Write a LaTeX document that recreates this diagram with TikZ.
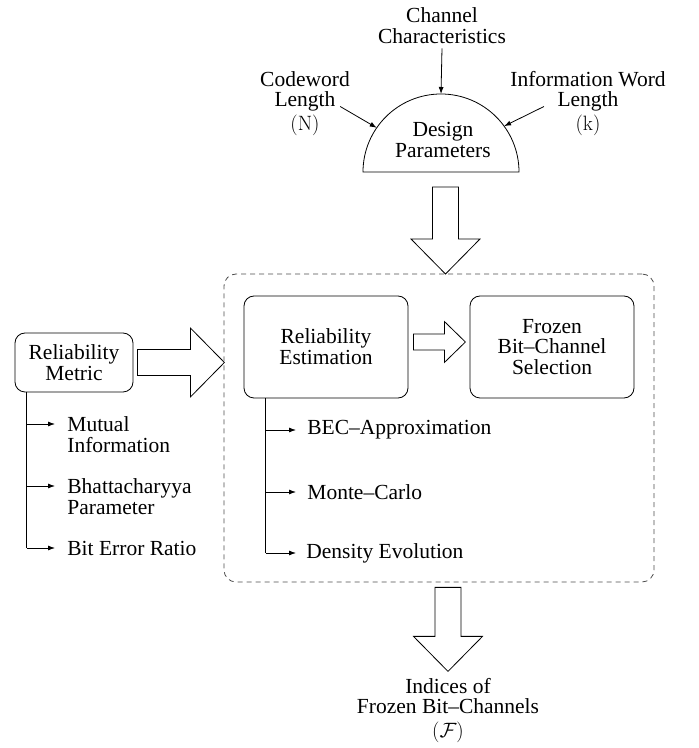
\documentclass[tikz,border=0pt]{standalone}
\usepackage[no-math]{fontspec}
\setmainfont{Liberation Serif}
\usetikzlibrary{arrows.meta,calc}

% hollow block arrow: start, angle, length, shaft half width, head half width, head length
\newcommand{\fatarrow}[6]{%
  \draw[fat, shift={(#1)}, rotate=#2] (0,-#4) -- ({#3-#6},-#4) -- ({#3-#6},-#5)
    -- (#3,0) -- ({#3-#6},#5) -- ({#3-#6},#4) -- (0,#4) -- cycle;}

\begin{document}
\begin{tikzpicture}[x=1pt,y=1pt,line width=0.8pt,
    font=\fontsize{21.5}{20.8}\selectfont,
    box/.style={draw, rounded corners=10pt, align=center, inner sep=0pt},
    lbl/.style={align=center, inner sep=0pt},
    item/.style={align=left, inner sep=0pt, anchor=west},
    conn/.style={-{Latex[length=7pt,width=5pt]}},
    fat/.style={draw, fill=white, line width=0.8pt}]
    \useasboundingbox (0,0) rectangle (699,748);
    % Design Parameters
    \coordinate (dp) at (441,576);
    \draw (dp) ++(-78,0) arc[start angle=180, end angle=0, radius=78] -- cycle;
    \node[lbl] (design) at (443,608) {Design\\Parameters};
    \node[lbl] (chan) at (442,722) {Channel\\Characteristics};
    \node[lbl] (code) at (305,644.5) {Codeword\\Length\\[3pt]$(\mathrm{N})$};
    \node[lbl] (info) at (588,644.5) {Information Word\\Length\\[3pt]$(\mathrm{k})$};
    \draw[conn] ([yshift=-4pt]chan.south) -- ($(dp)+(0,78)$);
    \draw[conn] ($(code.east)+(-10,-3)$) -- ($(dp)+(145.5:78)$);
    \draw[conn] ($(info.west)+(34,-3)$) -- ($(dp)+(36:78)$);
    %
    % Reliability Estimation and Selection
    \node[draw, black!70, dash pattern=on 5pt off 4pt, rounded corners=12pt,
          minimum width=430pt, minimum height=308pt] (outer) at (439,320) {};
    \node[box, minimum width=164pt, minimum height=102pt] (est) at (326,401) {Reliability\\Estimation};
    \node[box, minimum width=164pt, minimum height=102pt] (frozen) at (552,401) {Frozen\\Bit--Channel\\Selection};
    \node[item] (bec) at (307,318) {BEC--Approximation};
    \node[item] (mc) at (307,256) {Monte--Carlo};
    \node[item] (de) at (306,195) {Density Evolution};
    \coordinate (et) at ([xshift=22pt]est.south west);
    \draw (et) -- (et |- de.west);
    \draw[conn] (et |- bec.west) -- ([xshift=-11pt]bec.west);
    \draw[conn] (et |- mc.west) -- ([xshift=-11pt]mc.west);
    \draw[conn] (et |- de.west) -- ([xshift=-10pt]de.west);
    %
    % Reliability Metric
    \node[box, minimum width=118pt, minimum height=59pt] (metric) at (74,385.5) {Reliability\\Metric};
    \node[item] (mi) at (67,313) {Mutual\\Information};
    \node[item] (bp) at (67,251) {Bhattacharyya\\Parameter};
    \node[item] (ber) at (67,200) {Bit Error Ratio};
    \coordinate (mt) at ([xshift=12pt]metric.south west);
    \draw (mt) -- (mt |- ber.west);
    \draw[conn] ([yshift=11pt]mt |- mi.west) -- ([xshift=-12pt,yshift=11pt]mi.west);
    \draw[conn] ([yshift=11pt]mt |- bp.west) -- ([xshift=-12pt,yshift=11pt]bp.west);
    \draw[conn] (mt |- ber.west) -- ([xshift=-12pt]ber.west);
    %
    % Output
    \node[lbl] (idx) at (448,37.5) {Indices of\\Frozen Bit--Channels\\[3pt]$(\mathcal{F})$};
    %
    % Block arrows
    \fatarrow{$(dp)+(4.5,-15)$}{-90}{87}{13}{34.5}{35}
    \fatarrow{$(metric.east)+(4,0)$}{0}{87}{13}{34.5}{34}
    \fatarrow{$(est.east)+(5,5)$}{0}{52}{8}{20.5}{21}
    \fatarrow{$(outer.south)+(9,-5)$}{-90}{84}{13}{34.5}{35}
\end{tikzpicture}
\end{document}
